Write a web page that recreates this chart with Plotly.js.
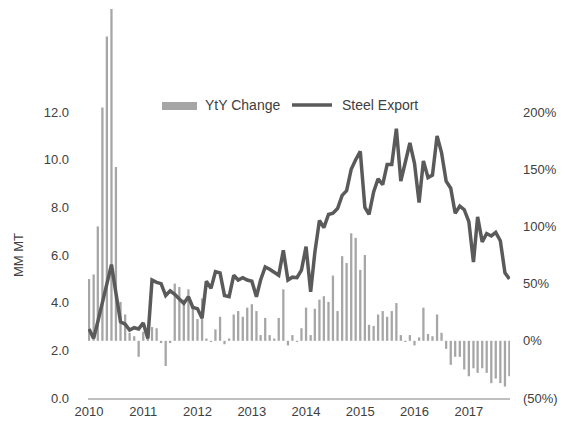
<!DOCTYPE html>
<html>
<head>
<meta charset="utf-8">
<script src="https://cdn.plot.ly/plotly-3.0.1.min.js"></script>
<style>html,body{margin:0;padding:0;background:#fff;}#chart{width:565px;height:422px;}</style>
</head>
<body>
<div id="chart"></div>
<script>
// Monthly series, Jan 2010 .. Oct 2017
const startYear = 2010;
const yearLabels = ['2010','2011','2012','2013','2014','2015','2016','2017'];

// Steel Export (MM MT)
const steelExport = [
  2.9, 2.5, 3.2, 4.0, 4.8, 5.6, 4.4, 3.2, 3.1, 2.85, 2.95, 2.9,
  3.15, 2.5, 4.95, 4.85, 4.8, 4.3, 4.5, 4.35, 4.15, 3.97, 4.25, 3.8,
  3.75, 3.35, 4.9, 4.6, 5.3, 5.25, 4.3, 4.25, 5.15, 4.95, 5.05, 4.95,
  4.9, 4.25, 4.95, 5.5, 5.4, 5.25, 5.15, 6.2, 4.95, 5.07, 5.05, 5.37,
  6.35, 4.45, 6.1, 7.45, 7.15, 7.7, 7.75, 7.95, 8.5, 8.7, 9.6, 10.0,
  10.35, 8.0, 7.7, 8.65, 9.2, 8.95, 9.8, 9.8, 11.3, 9.1, 9.85, 10.7,
  9.85, 8.2, 9.95, 9.25, 9.35, 11.0, 10.3, 9.1, 8.8, 7.75, 8.05, 7.9,
  7.4, 5.7, 7.6, 6.55, 6.9, 6.8, 6.95, 6.6, 5.25, 5.0
];

// YtY Change (%)
const ytyChange = [
  54, 58, 100, 204, 266, 290, 152, 34, 23, 7, 4, -14,
  8, 3, 12, 11, -2, -22, -2, 50, 47, 36, 45, 29,
  19, 37, 2, -1, 10, 21, -3, 2, 23, 26, 21, 29,
  32, 26, 5, 20, 5, 2, 20, 45, -4, 5, -1, 11,
  29, 5, 28, 36, 39, 34, 57, 26, 74, 68, 94, 90,
  62, 75, 14, 13, 23, 26, 21, 26, 33, 5, -1, 5,
  -4, 3, 29, 6, 4, 23, 7, -7, -21, -14, -14, -25,
  -31, -24, -28, -24, -28, -37, -33, -37, -40, -31
];

const leftTickVals = [0, 2, 4, 6, 8, 10, 12];
const leftTickText = ['0.0', '2.0', '4.0', '6.0', '8.0', '10.0', '12.0'];
const rightTickVals = [-50, 0, 50, 100, 150, 200];
const rightTickText = ['(50%)', '0%', '50%', '100%', '150%', '200%'];

const months = steelExport.map((_, i) => {
  const y = startYear + Math.floor(i / 12);
  const m = (i % 12) + 1;
  return y + '-' + String(m).padStart(2, '0') + '-01';
});
const yearTicks = yearLabels.map(y => y + '-01-01');

const FONT = 'Liberation Sans, Arial, sans-serif';
const TXT = '#404040';

const bars = {
  type: 'bar', x: months, y: ytyChange, name: 'YtY Change',
  marker: {color: '#a6a6a6', line: {width: 0}},
  xaxis: 'x', yaxis: 'y', hoverinfo: 'skip'
};
const line = {
  type: 'scatter', mode: 'lines', x: months, y: steelExport, name: 'Steel Export',
  line: {color: '#5a5a5a', width: 3.5},
  xaxis: 'x', yaxis: 'y2', hoverinfo: 'skip'
};

// plot area in pixels: x 88..510, y 5..398
const px = v => (v - 88) / 422;
const py = v => (398 - v) / 393;

const layout = {
  width: 565, height: 422,
  margin: {l: 88, r: 55, t: 5, b: 24, pad: 0},
  paper_bgcolor: '#ffffff', plot_bgcolor: '#ffffff',
  showlegend: false,
  bargap: 0.45,
  font: {family: FONT, size: 13, color: TXT},
  xaxis: {
    type: 'date', range: ['2009-12-25', '2017-10-05'],
    tickvals: yearTicks, ticktext: yearLabels,
    showgrid: false, zeroline: false,
    showline: true, linecolor: '#bfbfbf', linewidth: 2,
    ticks: '', tickfont: {family: FONT, size: 13, color: TXT}
  },
  yaxis: {
    side: 'right', range: [-50, 293.6],
    tickvals: rightTickVals, ticktext: rightTickText,
    showgrid: false, zeroline: false, showline: false, ticks: '',
    ticklabelstandoff: 12,
    tickfont: {family: FONT, size: 13, color: TXT}
  },
  yaxis2: {
    overlaying: 'y', side: 'left', range: [0, 16.49],
    tickvals: leftTickVals, ticktext: leftTickText,
    showgrid: false, zeroline: false, showline: false, ticks: '',
    ticklabelstandoff: 18,
    tickfont: {family: FONT, size: 13, color: TXT}
  },
  shapes: [
    {type: 'rect', xref: 'paper', yref: 'paper',
     x0: px(162), x1: px(197), y0: py(110), y1: py(102),
     fillcolor: '#a6a6a6', line: {width: 0}},
    {type: 'line', xref: 'paper', yref: 'paper',
     x0: px(292), x1: px(332), y0: py(105), y1: py(105),
     line: {color: '#5a5a5a', width: 3.5}}
  ],
  annotations: [
    {xref: 'paper', yref: 'paper', x: px(203), y: py(105), xanchor: 'left', yanchor: 'middle',
     text: 'YtY Change', showarrow: false, font: {family: FONT, size: 14, color: TXT}},
    {xref: 'paper', yref: 'paper', x: px(340), y: py(105), xanchor: 'left', yanchor: 'middle',
     text: 'Steel Export', showarrow: false, font: {family: FONT, size: 14, color: TXT}},
    {xref: 'paper', yref: 'y2', x: px(18), y: 6, xanchor: 'center', yanchor: 'middle',
     text: 'MM MT', textangle: -90, showarrow: false, font: {family: FONT, size: 13, color: TXT}}
  ]
};

Plotly.newPlot('chart', [bars, line], layout, {displayModeBar: false, staticPlot: true});
</script>
</body>
</html>
